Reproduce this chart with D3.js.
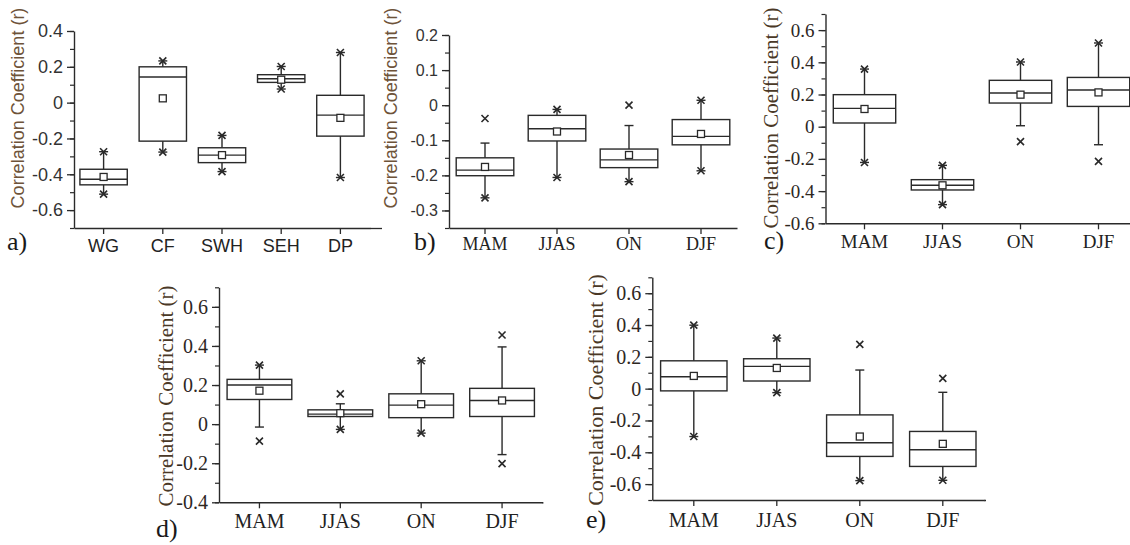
<!DOCTYPE html>
<html><head><meta charset="utf-8">
<script src="https://cdn.jsdelivr.net/npm/d3@7"></script>
<style>body{margin:0;background:#fff}</style>
</head><body>
<svg id="chart" width="1130" height="545"></svg>
<script>
// ---------- DATA ----------
// Panel a
const aCategories = ["WG","CF","SWH","SEH","DP"];
const aQ3       = [-0.372, 0.200, -0.252, 0.156,  0.041];
const aMedian   = [-0.428, 0.143, -0.293, 0.133, -0.070];
const aQ1       = [-0.459,-0.215, -0.335, 0.113, -0.187];
const aMean     = [-0.415, 0.024, -0.293, 0.128, -0.085];
const aWhiskHi  = [-0.274, 0.233, -0.183, 0.202,  0.280];
const aWhiskLo  = [-0.511,-0.276, -0.385, 0.076, -0.418];
const aMarkHi   = [-0.274, 0.233, -0.183, 0.202,  0.280];
const aMarkLo   = [-0.511,-0.276, -0.385, 0.076, -0.418];
const aTicks    = [-0.6,-0.4,-0.2,0,0.2,0.4];

// Panel b
const bCategories = ["MAM","JJAS","ON","DJF"];
const bQ3       = [-0.150,-0.029,-0.125,-0.041];
const bMedian   = [-0.185,-0.067,-0.156,-0.089];
const bQ1       = [-0.201,-0.102,-0.178,-0.113];
const bMean     = [-0.176,-0.075,-0.142,-0.082];
const bWhiskHi  = [-0.108,-0.012,-0.058, 0.014];
const bWhiskLo  = [-0.264,-0.206,-0.218,-0.187];
const bMarkHi   = [-0.038,-0.012, 0.000, 0.014];
const bMarkLo   = [-0.264,-0.206,-0.218,-0.187];
const bTicks    = [-0.3,-0.2,-0.1,0,0.1,0.2];

// Panel c
const cCategories = ["MAM","JJAS","ON","DJF"];
const cQ3       = [0.199,-0.329, 0.288, 0.306];
const cMedian   = [0.114,-0.364, 0.209, 0.228];
const cQ1       = [0.023,-0.393, 0.147, 0.126];
const cMean     = [0.110,-0.364, 0.199, 0.213];
const cWhiskHi  = [0.358,-0.240, 0.402, 0.520];
const cWhiskLo  = [-0.222,-0.484, 0.006,-0.112];
const cMarkHi   = [0.358,-0.240, 0.402, 0.520];
const cMarkLo   = [-0.222,-0.484,-0.093,-0.215];
const cTicks    = [-0.6,-0.4,-0.2,0,0.2,0.4,0.6];

// Panel d
const dCategories = ["MAM","JJAS","ON","DJF"];
const dQ3       = [0.229, 0.073, 0.155, 0.183];
const dMedian   = [0.200, 0.051, 0.097, 0.121];
const dQ1       = [0.126, 0.039, 0.033, 0.039];
const dMean     = [0.171, 0.056, 0.102, 0.121];
const dWhiskHi  = [0.302, 0.104, 0.324, 0.395];
const dWhiskLo  = [-0.015,-0.027,-0.046,-0.156];
const dMarkHi   = [0.302, 0.155, 0.324, 0.456];
const dMarkLo   = [-0.087,-0.027,-0.046,-0.202];
const dTicks    = [-0.4,-0.2,0,0.2,0.4,0.6];

// Panel e
const eCategories = ["MAM","JJAS","ON","DJF"];
const eQ3       = [0.175, 0.188,-0.165,-0.269];
const eMedian   = [0.075, 0.140,-0.340,-0.384];
const eQ1       = [-0.014, 0.048,-0.426,-0.489];
const eMean     = [0.080, 0.130,-0.301,-0.347];
const eWhiskHi  = [0.399, 0.318, 0.117,-0.023];
const eWhiskLo  = [-0.301,-0.025,-0.578,-0.576];
const eMarkHi   = [0.399, 0.318, 0.278, 0.065];
const eMarkLo   = [-0.301,-0.025,-0.578,-0.576];
const eTicks    = [-0.6,-0.4,-0.2,0,0.2,0.4,0.6];

const yTitle = "Correlation Coefficient (r)";

// ---------- STYLE / LAYOUT ----------
const SANS = "'Liberation Sans', Arial, sans-serif";
const SERIF = "'Liberation Serif', 'Times New Roman', serif";
const INK = "#2a2a2a";
const TITLE_SANS_COLOR = "#6e5339";
const TITLE_SERIF_COLOR = "#4a3826";
const TICK_SERIF_COLOR = "#2e271f";

const panels = [
  {label:"a)", cats:aCategories, q3:aQ3, med:aMedian, q1:aQ1, mean:aMean, wh:aWhiskHi, wl:aWhiskLo, mh:aMarkHi, ml:aMarkLo, ticks:aTicks,
   minor:0.1, yDom:[-0.7,0.4], x0:74, x1:370, axisEnd:382, yTop:31, yBot:228,
   tickFont:SANS, tickSize:18, tickColor:"#333", xFont:SANS, xSize:18, xDy:24,
   titleFont:SANS, titleSize:18, titleColor:TITLE_SANS_COLOR, titleX:18, titleY:108,
   lx:7, ly:250, lsize:26},
  {label:"b)", cats:bCategories, q3:bQ3, med:bMedian, q1:bQ1, mean:bMean, wh:bWhiskHi, wl:bWhiskLo, mh:bMarkHi, ml:bMarkLo, ticks:bTicks,
   minor:0.05, yDom:[-0.35,0.2], x0:449, x1:737, axisEnd:737, yTop:35, yBot:228,
   tickFont:SANS, tickSize:16, tickColor:"#333", xFont:SERIF, xSize:18, xDy:22,
   titleFont:SANS, titleSize:18, titleColor:TITLE_SANS_COLOR, titleX:391, titleY:108,
   lx:414, ly:250, lsize:26},
  {label:"c)", cats:cCategories, q3:cQ3, med:cMedian, q1:cQ1, mean:cMean, wh:cWhiskHi, wl:cWhiskLo, mh:cMarkHi, ml:cMarkLo, ticks:cTicks,
   minor:0.1, yDom:[-0.6,0.7], x0:825.5, x1:1137.5, axisEnd:1137.5, yTop:14, yBot:223.3,
   tickFont:SERIF, tickSize:19, tickColor:TICK_SERIF_COLOR, xFont:SERIF, xSize:19, xDy:25,
   titleFont:SERIF, titleSize:21, titleColor:TITLE_SERIF_COLOR, titleX:771, titleY:118,
   lx:764, ly:249, lsize:26},
  {label:"d)", cats:dCategories, q3:dQ3, med:dMedian, q1:dQ1, mean:dMean, wh:dWhiskHi, wl:dWhiskLo, mh:dMarkHi, ml:dMarkLo, ticks:dTicks,
   minor:0.1, yDom:[-0.4,0.7], x0:219, x1:542.5, axisEnd:543.5, yTop:287.3, yBot:502.3,
   tickFont:SERIF, tickSize:20, tickColor:TICK_SERIF_COLOR, xFont:SERIF, xSize:20, xDy:26,
   titleFont:SERIF, titleSize:21, titleColor:TITLE_SERIF_COLOR, titleX:166, titleY:396,
   lx:156, ly:537, lsize:26},
  {label:"e)", cats:eCategories, q3:eQ3, med:eMedian, q1:eQ1, mean:eMean, wh:eWhiskHi, wl:eWhiskLo, mh:eMarkHi, ml:eMarkLo, ticks:eTicks,
   minor:0.1, yDom:[-0.7,0.7], x0:652.3, x1:984.3, axisEnd:986, yTop:277.3, yBot:500,
   tickFont:SERIF, tickSize:20, tickColor:TICK_SERIF_COLOR, xFont:SERIF, xSize:20, xDy:27,
   titleFont:SERIF, titleSize:22, titleColor:TITLE_SERIF_COLOR, titleX:595, titleY:390,
   lx:586, ly:528, lsize:26}
];

const svg = d3.select("#chart");

function fmt(v){ return Math.abs(v) < 1e-9 ? "0" : String(v); }

panels.forEach(p => {
  const g = svg.append("g");
  const x = d3.scaleBand().domain(p.cats).range([p.x0, p.x1]).paddingInner(0).paddingOuter(0);
  const y = d3.scaleLinear().domain(p.yDom).range([p.yBot, p.yTop]);

  // minor ticks
  const step = p.minor;
  const minorVals = d3.range(Math.round(p.yDom[0]/step), Math.round(p.yDom[1]/step)+1).map(i => +(i*step).toFixed(3));
  g.append("g").attr("transform", `translate(${p.x0},0)`)
    .call(d3.axisLeft(y).tickValues(minorVals).tickSize(4).tickSizeOuter(0).tickFormat(""))
    .call(s => s.select(".domain").remove())
    .selectAll("line").attr("stroke", INK).attr("stroke-width", 1.2);

  // major y axis
  const ya = g.append("g").attr("transform", `translate(${p.x0},0)`)
    .call(d3.axisLeft(y).tickValues(p.ticks).tickSize(7).tickSizeOuter(0).tickPadding(4).tickFormat(fmt));
  ya.attr("font-family", p.tickFont).attr("font-size", p.tickSize);
  ya.select(".domain").attr("stroke", INK).attr("stroke-width", 1.4);
  ya.selectAll("line").attr("stroke", INK).attr("stroke-width", 1.3);
  ya.selectAll("text").attr("font-family", p.tickFont).attr("font-size", p.tickSize).attr("fill", p.tickColor);

  // x axis
  const xa = g.append("g").attr("transform", `translate(0,${p.yBot})`)
    .call(d3.axisBottom(x).tickSize(6).tickSizeOuter(0).tickPadding(p.xDy - 6 - p.xSize*0.72));
  xa.attr("font-family", p.xFont).attr("font-size", p.xSize);
  xa.select(".domain").attr("stroke", INK).attr("stroke-width", 1.4);
  if (p.axisEnd > p.x1) {
    xa.append("line").attr("x1", p.x1).attr("x2", p.axisEnd).attr("y1", 0.5).attr("y2", 0.5)
      .attr("stroke", INK).attr("stroke-width", 1.4);
  }
  xa.selectAll("line").attr("stroke", INK).attr("stroke-width", 1.3);
  xa.selectAll("text").attr("font-family", p.xFont).attr("font-size", p.xSize).attr("fill", "#222");

  // y title
  g.append("text")
    .attr("transform", `translate(${p.titleX},${p.titleY}) rotate(-90)`)
    .attr("text-anchor", "middle").attr("dominant-baseline", "central")
    .attr("font-family", p.titleFont).attr("font-size", p.titleSize).attr("fill", p.titleColor)
    .text(yTitle);

  // panel label
  g.append("text").attr("x", p.lx).attr("y", p.ly)
    .attr("font-family", SERIF).attr("font-size", p.lsize).attr("fill", "#1a1a1a")
    .text(p.label);

  // boxes
  const bw = x.bandwidth() * 0.8;
  p.cats.forEach((c, i) => {
    const cx = x(c) + x.bandwidth()/2;
    const bg = g.append("g").attr("stroke", INK).attr("stroke-width", 1.4).attr("fill", "none");
    // whiskers
    bg.append("line").attr("x1", cx).attr("x2", cx).attr("y1", y(p.q3[i])).attr("y2", y(p.wh[i]));
    bg.append("line").attr("x1", cx).attr("x2", cx).attr("y1", y(p.q1[i])).attr("y2", y(p.wl[i]));
    // caps
    [p.wh[i], p.wl[i]].forEach(v => {
      bg.append("line").attr("x1", cx-4.5).attr("x2", cx+4.5).attr("y1", y(v)).attr("y2", y(v));
    });
    // box
    bg.append("rect").attr("x", cx - bw/2).attr("width", bw)
      .attr("y", y(p.q3[i])).attr("height", y(p.q1[i]) - y(p.q3[i]));
    // median
    bg.append("line").attr("x1", cx - bw/2).attr("x2", cx + bw/2)
      .attr("y1", y(p.med[i])).attr("y2", y(p.med[i]));
    // mean square
    bg.append("rect").attr("x", cx-3.5).attr("y", y(p.mean[i])-3.5).attr("width", 7).attr("height", 7)
      .attr("fill", "#fff").attr("stroke-width", 1.3);
    // 1%/99% markers
    [p.mh[i], p.ml[i]].forEach(v => {
      const yy = y(v), s = 3.5;
      bg.append("path").attr("d", `M${cx-s},${yy-s}L${cx+s},${yy+s}M${cx-s},${yy+s}L${cx+s},${yy-s}`)
        .attr("stroke-width", 1.6);
    });
  });
});
</script>
</body></html>
